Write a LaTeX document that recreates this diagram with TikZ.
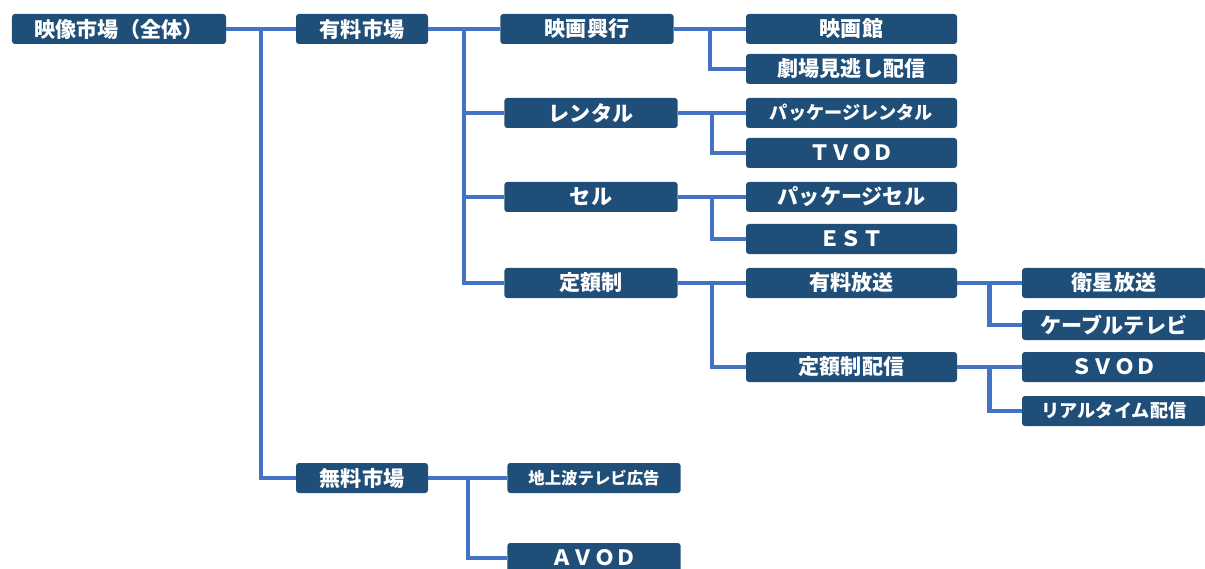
\documentclass[tikz,border=0pt]{standalone}
\usepackage{fontspec}
\setmainfont{Noto Sans CJK JP}
\usepackage{xcolor}
\usepackage{tikz}
\usetikzlibrary{positioning,calc}
\definecolor{boxblue}{HTML}{1F4E79}
\definecolor{linkblue}{HTML}{4472C4}

\begin{document}
\begin{tikzpicture}[x=0.03cm,y=-0.03cm,
    box/.style={fill=boxblue,rounded corners=2.5pt,text=white,inner sep=0pt,
      minimum height=0.9cm,font=\bfseries\fontsize{18}{18}\selectfont},
    lvA/.style={box,minimum width=6.42cm},
    lvB/.style={box,minimum width=3.96cm},
    lvC/.style={box,minimum width=5.2cm},
    lvD/.style={box,minimum width=6.33cm},
    lvE/.style={box,minimum width=5.52cm},
    smalltxt/.style={font=\bfseries\fontsize{15.5}{15.5}\selectfont},
    tinytxt/.style={font=\bfseries\fontsize{14}{14}\selectfont},
    link/.style={draw=linkblue,line width=3.6pt}]
    \useasboundingbox (0,0) rectangle (1205,569);
    % market tree
    \node[lvA] (zentai) at (119,29) {映像市場（全体）};
    \node[lvB] (yuryo) at (362,29) {有料市場};
    \node[lvB] (muryo) at (362,478) {無料市場};
    \node[lvC] (kogyo) at (587,29) {映画興行};
    \node[lvC] (rental) at (591,113) {レンタル};
    \node[lvC] (sell) at (591,197) {セル};
    \node[lvC] (teigaku) at (591,283) {定額制};
    \node[lvC,tinytxt] (chijo) at (594,478) {地上波テレビ広告};
    \node[lvC] (avod) at (594,558) {ＡＶＯＤ};
    \node[lvD] (kan) at (851.5,29) {映画館};
    \node[lvD] (minogashi) at (851.5,69) {劇場見逃し配信};
    \node[lvD,smalltxt] (pkgrental) at (851.5,113) {パッケージレンタル};
    \node[lvD] (tvod) at (851.5,153) {ＴＶＯＤ};
    \node[lvD] (pkgsell) at (851.5,197) {パッケージセル};
    \node[lvD] (est) at (851.5,239) {ＥＳＴ};
    \node[lvD] (hoso) at (851.5,283) {有料放送};
    \node[lvD] (haishin) at (851.5,367) {定額制配信};
    \node[lvE] (eisei) at (1114,283) {衛星放送};
    \node[lvE] (cable) at (1114,325) {ケーブルテレビ};
    \node[lvE] (svod) at (1114,367) {ＳＶＯＤ};
    \node[lvE,smalltxt] (realtime) at (1114,411) {リアルタイム配信};
    % connectors
    \draw[link] (zentai.east) -- (yuryo.west);
    \draw[link] ($(zentai.east)!.5!(yuryo.west)$) |- (muryo.west);
    \draw[link] (yuryo.east) -- (kogyo.west);
    \coordinate (b1) at ($(yuryo.east)!.5!(kogyo.west)$);
    \foreach \n in {rental,sell,teigaku}
        \draw[link] (b1) |- (\n.west);
    \draw[link] (muryo.east) -- (chijo.west);
    \draw[link] ($(muryo.east)!.5!(chijo.west)$) |- (avod.west);
    \draw[link] (kogyo.east) -- (kan.west);
    \draw[link] ($(kogyo.east)!.5!(kan.west)$) |- (minogashi.west);
    \draw[link] (rental.east) -- (pkgrental.west);
    \draw[link] ($(rental.east)!.5!(pkgrental.west)$) |- (tvod.west);
    \draw[link] (sell.east) -- (pkgsell.west);
    \draw[link] ($(sell.east)!.5!(pkgsell.west)$) |- (est.west);
    \draw[link] (teigaku.east) -- (hoso.west);
    \draw[link] ($(teigaku.east)!.5!(hoso.west)$) |- (haishin.west);
    \draw[link] (hoso.east) -- (eisei.west);
    \draw[link] ($(hoso.east)!.5!(eisei.west)$) |- (cable.west);
    \draw[link] (haishin.east) -- (svod.west);
    \draw[link] ($(haishin.east)!.5!(svod.west)$) |- (realtime.west);
\end{tikzpicture}
\end{document}
